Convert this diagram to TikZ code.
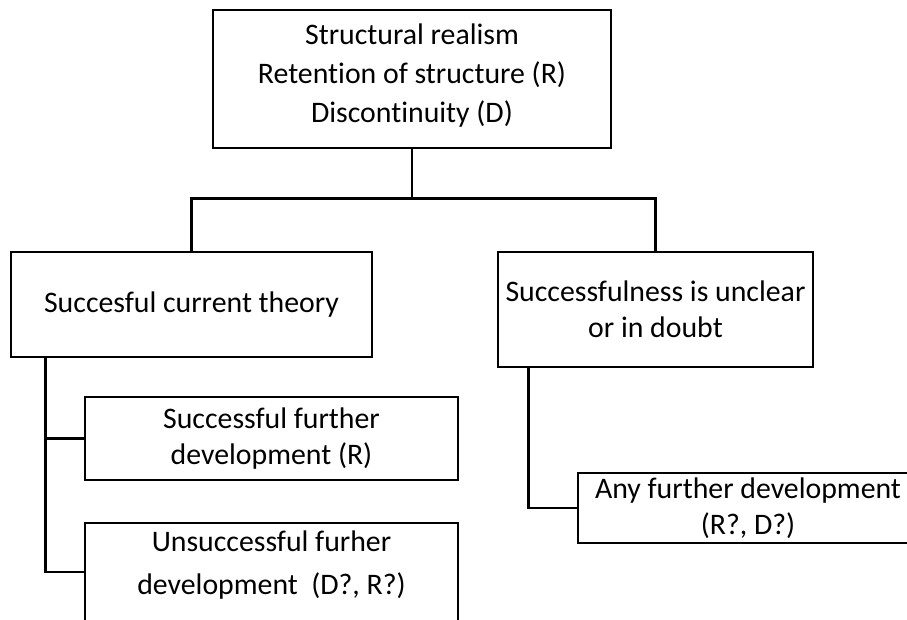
\documentclass[tikz,border=0pt]{standalone}
\usepackage{fontspec}
\setmainfont{Carlito}[Ligatures=NoCommon,Contextuals=NoAlternate]
\usetikzlibrary{calc}
\begin{document}
\begin{tikzpicture}[x=1pt,y=-1pt,
  box/.style={draw=black,line width=2.8pt,rectangle,inner sep=0pt,align=center,
    font=\fontsize{29.8}{36}\selectfont},
  txt/.style={inner sep=0pt,align=center,font=\fontsize{29.8}{36}\selectfont},
  conn/.style={draw=black,line width=2.6pt}]
\useasboundingbox (0,0) rectangle (907,619);
\clip (0,0) rectangle (907,619);
% boxes
\node[box,minimum width=398pt,minimum height=138pt] (top) at (412,79) {};
\node[txt,font=\fontsize{29.8}{39}\selectfont] (toptext) at (412,75.5)
  {Structural realism\\Retent\kern0pt ion of structure (R)\\Discont\kern0pt inuity (D)};
\node[box,minimum width=361pt,minimum height=105pt] (left) at (191.5,304.5) {Succesful current theory};
\node[box,minimum width=315pt,minimum height=115pt] (right) at (655.5,309.5) {Successfulness is unclear\\or in doubt};
\node[box,minimum width=373pt,minimum height=83pt] (sfd) at (271.5,438.5) {Successful further\\development (R)};
\node[box,minimum width=373pt,minimum height=98pt] (ufd) at (271.5,572) {};
\node[txt,font=\fontsize{29.8}{43}\selectfont] (ufdtext) at (271.5,565)
  {Unsuccessful furher\\development~~(D?, R?)};
\node[box,minimum width=340pt,minimum height=70pt] (afd) at (748,508) {Any further development\\(R?, D?)};
% connectors
\coordinate (lj) at ($(left.north)+(0,-52)$);
\draw[conn] (top.south) -- (top.south |- lj);
\draw[conn] (left.north) -- (lj) -| (right.north);
\coordinate (lv) at ($(left.south west)+(36,0)$);
\draw[conn] (lv) |- (sfd.west);
\draw[conn] (lv) |- (ufd.west);
\coordinate (rv) at ($(right.south west)+(32,0)$);
\draw[conn] (rv) |- (afd.west);
\end{tikzpicture}
\end{document}
